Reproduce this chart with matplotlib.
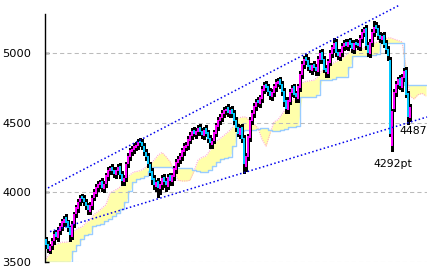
import matplotlib
matplotlib.use("Agg")
import matplotlib.pyplot as plt
import numpy as np

# ---- candle data (one candle per index) ----
opens = [3660,3630,3580,3610,3650,3710,3670,3720,3750,3780,
         3820,3790,3750,3680,3770,3840,3880,3930,3970,3960,
         3930,3910,3860,3900,3960,3990,4030,4050,4080,4020,
         4060,4110,4150,4180,4160,4120,4150,4190,4130,4070,
         4100,4200,4250,4290,4300,4320,4330,4370,4360,4330,
         4290,4260,4200,4150,4100,4040,4080,4020,4050,4110,
         4080,4040,4120,4070,4110,4160,4210,4230,4250,4290,
         4320,4330,4370,4400,4450,4410,4430,4470,4440,4400,
         4460,4430,4390,4340,4370,4420,4470,4510,4530,4560,
         4580,4610,4560,4600,4570,4520,4470,4410,4470,4390,
         4180,4250,4390,4510,4560,4610,4660,4630,4670,4730,
         4780,4760,4730,4680,4710,4750,4780,4810,4780,4730,
         4660,4590,4650,4710,4760,4710,4670,4750,4840,4910,
         4970,4950,4910,4870,4920,4900,4860,4950,5010,4960,
         4890,4850,4930,4990,5030,5080,5010,4970,5000,5040,
         5080,5040,5090,5070,5020,5080,5070,5040,5100,5140,
         5180,5060,4990,5070,5140,5200,5180,5130,5090,5130,
         5070,5030,4950,4330,4600,4710,4770,4820,4750,4820,
         4880,4710,4530]
closes = [3620,3590,3610,3650,3700,3680,3730,3760,3790,3810,
          3780,3740,3690,3770,3840,3890,3930,3960,3950,3930,
          3900,3870,3910,3960,4000,4040,4060,4070,4030,4060,
          4120,4160,4170,4150,4130,4160,4180,4120,4080,4100,
          4200,4260,4300,4310,4330,4340,4360,4350,4330,4290,
          4250,4200,4140,4090,4050,4070,4030,4060,4100,4070,
          4050,4110,4080,4120,4170,4220,4240,4260,4300,4330,
          4340,4380,4410,4440,4420,4440,4460,4430,4410,4450,
          4420,4380,4350,4370,4430,4480,4520,4540,4570,4590,
          4600,4570,4590,4560,4510,4460,4420,4460,4380,4200,
          4260,4400,4520,4570,4620,4650,4640,4680,4740,4770,
          4750,4720,4690,4720,4760,4790,4800,4770,4720,4650,
          4600,4660,4720,4750,4700,4680,4760,4850,4920,4960,
          4940,4900,4880,4910,4890,4870,4960,5000,4950,4880,
          4860,4940,5000,5040,5070,5000,4980,5010,5050,5070,
          5050,5080,5060,5030,5070,5060,5050,5110,5150,5170,
          5050,5000,5080,5150,5190,5170,5120,5100,5120,5060,
          5020,4980,4420,4580,4720,4780,4810,4760,4830,4870,
          4700,4540,4610]
highs = [3680,3650,3630,3670,3720,3730,3750,3780,3810,3830,
         3840,3800,3760,3790,3860,3910,3950,3980,3990,3980,
         3950,3920,3930,3980,4020,4060,4080,4090,4100,4080,
         4140,4180,4190,4200,4180,4180,4200,4210,4150,4120,
         4220,4280,4320,4330,4350,4360,4380,4390,4380,4350,
         4310,4280,4220,4170,4120,4090,4100,4080,4120,4130,
         4100,4130,4140,4140,4190,4240,4260,4280,4320,4350,
         4360,4400,4430,4460,4470,4460,4480,4490,4460,4470,
         4480,4450,4410,4390,4450,4500,4540,4560,4590,4610,
         4620,4630,4610,4620,4590,4540,4490,4480,4490,4410,
         4280,4420,4540,4590,4640,4670,4680,4700,4760,4790,
         4800,4780,4750,4740,4780,4810,4820,4830,4800,4750,
         4680,4680,4740,4770,4780,4730,4780,4870,4940,4980,
         4990,4970,4930,4930,4940,4920,4980,5020,5030,4980,
         4910,4960,5020,5060,5110,5100,5030,5030,5070,5090,
         5100,5100,5110,5090,5090,5100,5090,5130,5170,5190,
         5200,5080,5100,5170,5230,5220,5200,5150,5140,5150,
         5090,5050,4970,4600,4740,4800,4830,4840,4850,4890,
         4900,4730,4630]
lows = [3600,3570,3560,3590,3630,3660,3650,3700,3730,3760,
        3760,3720,3650,3660,3750,3820,3860,3910,3930,3910,
        3880,3840,3840,3880,3940,3970,4010,4030,4010,4000,
        4040,4090,4130,4130,4110,4100,4130,4100,4050,4050,
        4080,4180,4230,4270,4280,4300,4310,4330,4310,4270,
        4230,4180,4120,4060,4020,4010,3965,3990,4020,4040,
        4010,4020,4050,4050,4090,4140,4190,4210,4230,4270,
        4300,4310,4350,4380,4400,4390,4410,4410,4390,4380,
        4400,4360,4320,4320,4350,4400,4450,4490,4510,4540,
        4560,4550,4540,4540,4490,4440,4400,4390,4360,4140,
        4150,4230,4370,4490,4540,4590,4620,4610,4650,4710,
        4730,4700,4670,4660,4690,4730,4760,4750,4700,4620,
        4570,4570,4630,4690,4680,4650,4650,4730,4820,4890,
        4920,4880,4860,4850,4870,4840,4840,4930,4930,4860,
        4830,4830,4910,4970,5010,4980,4960,4950,4980,5020,
        5030,5020,5040,5010,5000,5040,5030,5020,5080,5120,
        5030,4980,4970,5050,5120,5150,5100,5080,5070,5040,
        5000,4950,4400,4292,4580,4690,4750,4740,4730,4800,
        4680,4487,4510]

# ---- Ichimoku cloud, read every 2 candle steps ----
cloud_x = list(range(0, 192, 2))
span_a = [3520,3560,3620,3630,3640,3640,3645,3720,3740,3750,
          3780,3800,3840,3860,3885,3910,3995,4010,4025,4050,
          4090,4125,4145,4150,4160,4180,4200,4230,4265,4285,
          4255,4220,4150,4085,4080,4080,4085,4150,4230,4250,
          4260,4300,4350,4375,4395,4420,4445,4480,4530,4540,
          4540,4510,4490,4460,4380,4330,4420,4505,4520,4560,
          4600,4630,4670,4700,4785,4795,4800,4805,4830,4875,
          4885,4905,4930,4945,4960,4985,5010,5020,5020,5025,
          5050,5065,5070,5080,5100,5105,5110,5100,5090,5080,
          4900,4690,4670,4700,4710,4690]
span_b = [3500,3500,3500,3500,3500,3500,3500,3580,3620,3660,
          3690,3700,3755,3765,3770,3790,3810,3830,3850,3880,
          3930,4010,4070,4095,4105,4115,4150,4180,4180,4180,
          4180,4180,4175,4170,4170,4170,4170,4160,4150,4145,
          4145,4160,4190,4215,4235,4245,4255,4330,4425,4440,
          4445,4450,4450,4455,4460,4460,4450,4440,4440,4445,
          4455,4465,4470,4475,4685,4685,4685,4685,4700,4805,
          4805,4808,4815,4825,4830,4830,4900,4975,4975,4975,
          4980,4985,4985,4990,5070,5070,5070,5070,5070,5070,
          4770,4770,4770,4770,4770,4770]

# ---- trend channel (start/end index, price) ----
upper_x = [1, 177]
upper_y = [4030, 5346]
lower_x = [2, 190.5]
lower_y = [3716, 4540]

yticks = [3500, 4000, 4500, 5000]
low_label = "4292pt"
last_label = "4487"
low_idx, low_val = 173, 4292
last_idx, last_val = 181, 4487

W, H, DPI = 433, 275, 100
fig = plt.figure(figsize=(W / DPI, H / DPI), dpi=DPI)
ax = fig.add_axes([45 / W, 1 - 261.7 / H, 382 / W, 247.7 / H])
ax.set_xlim(-0.5, 190.5)
ax.set_ylim(3500, 5280)

font = dict(family=["Liberation Sans Narrow", "DejaVu Sans"], size=8.2)
afont = dict(family=["Liberation Sans Narrow", "DejaVu Sans"], size=7.8)

# cloud
ax.fill_between(cloud_x, span_a, span_b, color="#FFFFAA", lw=0, zorder=1)
ax.plot(cloud_x, span_b, color="#99CCFF", lw=1, zorder=1.5, drawstyle="steps-mid")
ax.plot(cloud_x, span_a, color="#FFAACC", lw=0.8, zorder=1.4, ls=(0, (1, 1)))

# grid
for t in yticks:
    ax.axhline(t, color="#BBBBBB", lw=0.75, ls=(0, (4, 3)), zorder=2)

# candles
idx = np.arange(len(closes))
o = np.array(opens); c = np.array(closes)
up = c >= o
ax.vlines(idx, lows, highs, color="black", lw=1.0, zorder=3, antialiased=False)
body_lo = np.minimum(o, c); body_h = np.abs(c - o)
ax.bar(idx[up], body_h[up], bottom=body_lo[up], width=1.1, color="#FF00FF",
       lw=0, zorder=4, antialiased=False)
ax.bar(idx[~up], body_h[~up], bottom=body_lo[~up], width=1.1, color="#00C8FF",
       lw=0, zorder=4, antialiased=False)

# channel
ax.plot(upper_x, upper_y, color="#0000EE", lw=1.1, ls=(0, (1, 1.6)), zorder=5, clip_on=False)
ax.plot(lower_x, lower_y, color="#0000EE", lw=1.1, ls=(0, (1, 1.6)), zorder=5, clip_on=False)

# annotations
ax.text(low_idx + 0.5, low_val - 55, low_label, ha="center", va="top", color="black",
        zorder=6, **afont)
ax.text(last_idx + 2.5, last_val - 50, last_label, ha="center", va="center", color="black",
        zorder=6, **afont)

# axes styling
for s in ["top", "right", "bottom"]:
    ax.spines[s].set_visible(False)
ax.spines["left"].set_linewidth(1.0)
ax.set_xticks([])
ax.set_yticks(yticks)
ax.set_yticklabels([str(t) for t in yticks], **font)
ax.tick_params(axis="y", direction="in", length=3, width=1, pad=10)

fig.savefig("out.png", dpi=DPI)
